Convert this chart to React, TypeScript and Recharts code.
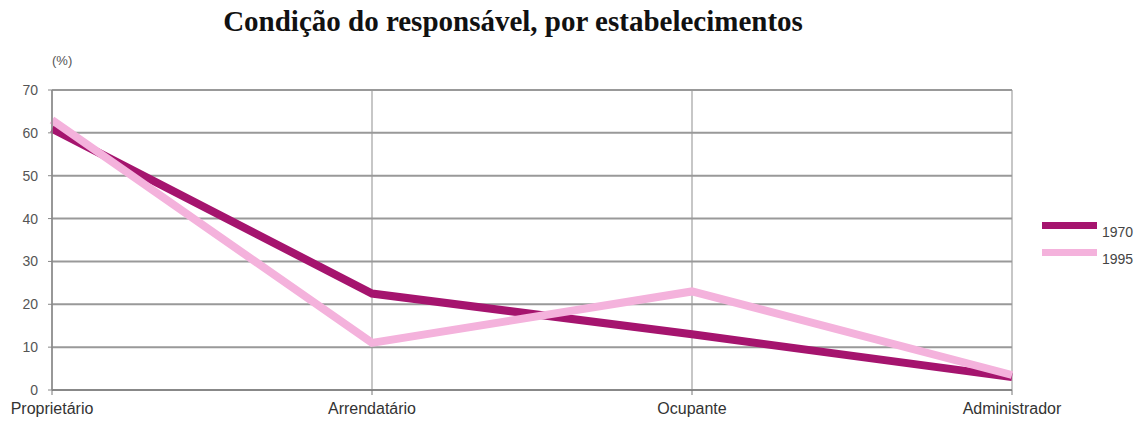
import { CartesianGrid, Line, LineChart, XAxis, YAxis } from 'recharts'

const categories = ['Proprietário', 'Arrendatário', 'Ocupante', 'Administrador']
const values1970 = [61, 22.5, 13, 3]
const values1995 = [63, 11, 23, 3.5]
const yTicks = [0, 10, 20, 30, 40, 50, 60, 70]

const series = [
  { key: 'y1970', name: '1970', color: '#a5146e' },
  { key: 'y1995', name: '1995', color: '#f4b2dc' },
]

const data = categories.map((name, i) => ({
  name,
  y1970: values1970[i],
  y1995: values1995[i],
}))

export default function App() {
  return (
    <div style={{ position: 'absolute', left: 0, top: 0, width: 1137, height: 421, background: '#fff' }}>
      <div
        style={{
          position: 'absolute',
          left: 0,
          width: 1026,
          top: 5,
          textAlign: 'center',
          fontFamily: '"Liberation Serif", serif',
          fontWeight: 'bold',
          fontSize: 29,
          color: '#111',
        }}
      >
        Condição do responsável, por estabelecimentos
      </div>
      <div
        style={{
          position: 'absolute',
          left: 52,
          top: 53,
          fontFamily: '"Liberation Sans", Arial, sans-serif',
          fontSize: 13,
          color: '#555',
        }}
      >
        (%)
      </div>
      <LineChart
        width={1137}
        height={421}
        data={data}
        margin={{ top: 90, right: 125, bottom: 0, left: 0 }}
      >
        <CartesianGrid stroke='#8f8f8f' horizontal={false} strokeWidth={1} />
        <CartesianGrid stroke='#999999' vertical={false} strokeWidth={2} />
        <XAxis
          dataKey='name'
          height={31}
          stroke='#777'
          tickLine={{ stroke: '#777' }}
          tickSize={5}
          tickMargin={8}
          tick={{ fill: '#333', fontSize: 16, fontFamily: '"Liberation Sans", Arial, sans-serif' }}
          axisLine={{ stroke: '#888', strokeWidth: 2 }}
          interval={0}
        />
        <YAxis
          width={52}
          domain={[0, 70]}
          ticks={yTicks}
          stroke='#888'
          tickSize={4}
          tickMargin={10}
          tick={{ fill: '#555', fontSize: 14, fontFamily: '"Liberation Sans", Arial, sans-serif' }}
          axisLine={{ stroke: '#888', strokeWidth: 1.5 }}
        />
        {series.map((s) => (
          <Line
            key={s.key}
            dataKey={s.key}
            name={s.name}
            stroke={s.color}
            strokeWidth={8}
            dot={false}
            activeDot={false}
            strokeLinejoin='miter'
            isAnimationActive={false}
          />
        ))}
      </LineChart>
      <div style={{ position: 'absolute', left: 1042, top: 212 }}>
        {series.map((s) => (
          <div key={s.key} style={{ display: 'flex', alignItems: 'center', height: 27 }}>
            <div style={{ width: 55, height: 7, background: s.color }} />
            <span
              style={{
                marginLeft: 5,
                marginTop: 12,
                fontFamily: '"Liberation Sans", Arial, sans-serif',
                fontSize: 14,
                color: '#444',
              }}
            >
              {s.name}
            </span>
          </div>
        ))}
      </div>
    </div>
  )
}
